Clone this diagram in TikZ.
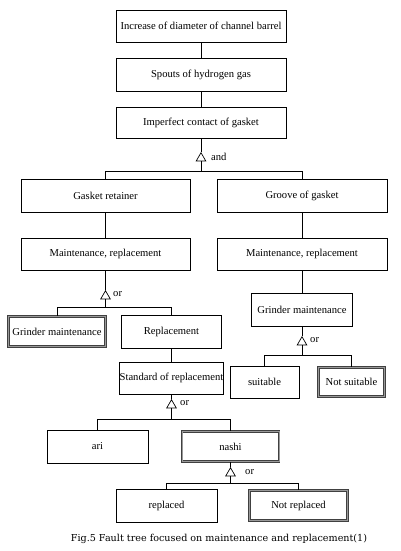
\documentclass[tikz,border=0pt]{standalone}
\usepackage{fontspec}
\setmainfont{Liberation Serif}
\newfontfamily\capfont{DejaVu Serif}
\usetikzlibrary{shapes.geometric}

\begin{document}
\begin{tikzpicture}[x=1pt,y=-1pt]
\tikzset{
  evt/.style={draw,line width=.7pt,inner sep=0pt,minimum height=32pt,font=\fontsize{10.6}{12}\selectfont},
  evtD/.style={evt,draw=black!75,double=black!40,double distance=1pt,line width=.8pt},
  gate/.style={draw,fill=white,line width=.7pt,regular polygon,regular polygon sides=3,minimum size=11pt,inner sep=0pt,anchor=north},
  gatelbl/.style={anchor=west,inner sep=0pt,font=\fontsize{10.6}{12}\selectfont},
  conn/.style={line width=.7pt},
}
\useasboundingbox (0,0) rectangle (400,551);

%% top chain
\node[evt,minimum width=170pt] (incr) at (201,26) {Increase of diameter of channel barrel};
\node[evt,minimum width=170pt,minimum height=33pt] (spout) at (201,74.5) {Spouts of hydrogen gas};
\node[evt,minimum width=170pt,minimum height=31pt] (contact) at (201,122.5) {Imperfect contact of gasket};
\draw[conn] (incr) -- (spout);
\draw[conn] (spout) -- (contact);

%% and gate
\node[gate] (gAnd) at (201,152) {};
\node[gatelbl] (lAnd) at (211,156.5) {and};
\coordinate (bAnd) at (201,171);

%% left branch
\node[evt,minimum width=169pt,minimum height=33pt] (retainer) at (105.5,195.5) {Gasket retainer};
\node[evt,minimum width=169pt] (maintL) at (105.5,254) {Maintenance, replacement};
\node[gate] (gOrL) at (105.5,290) {};
\node[gatelbl] (lOrL) at (113,294) {or};
\coordinate (bOrL) at (105.5,307);
\node[evtD,minimum width=97.5pt,minimum height=30.5pt] (grindL) at (57,331.5) {Grinder maintenance};
\node[evt,minimum width=100pt,minimum height=33pt] (repl) at (171.5,331.5) {Replacement};
\node[evt,minimum width=101pt] (std) at (171.5,378) {Standard of replacement};
\node[gate] (gOrS) at (171.5,399) {};
\node[gatelbl] (lOrS) at (180,403) {or};
\coordinate (bOrS) at (171.5,419);
\node[evt,minimum width=101pt,minimum height=33pt] (ari) at (97.5,446.5) {ari};
\node[evtD,minimum width=97pt,minimum height=30.5pt] (nashi) at (230.5,446.5) {nashi};
\node[gate] (gOrN) at (230.5,467) {};
\node[gatelbl] (lOrN) at (245,472) {or};
\coordinate (bOrN) at (230.5,483);
\node[evt,minimum width=101pt,minimum height=33pt] (replaced) at (166.5,505.5) {replaced};
\node[evtD,minimum width=98.5pt,minimum height=30.5pt] (notrepl) at (298.5,505.5) {Not replaced};

%% right branch
\node[evt,minimum width=170pt,minimum height=33pt] (groove) at (302,195.5) {Groove of gasket};
\node[evt,minimum width=170pt] (maintR) at (302,254) {Maintenance, replacement};
\node[evt,minimum width=101pt,minimum height=33pt] (grindR) at (302,309.5) {Grinder maintenance};
\node[gate] (gOrR) at (302,336) {};
\node[gatelbl] (lOrR) at (310,340) {or};
\coordinate (bOrR) at (302,355);
\node[evt,minimum width=69pt] (suit) at (264.5,382) {suitable};
\node[evtD,minimum width=66.5pt,minimum height=29.5pt] (notsuit) at (351.5,382) {Not suitable};

%% connectors
\draw[conn] (contact) -- (gAnd.north);
\draw[conn] (gAnd.south) -- (bAnd);
\draw[conn] (bAnd) -| (retainer.north);
\draw[conn] (bAnd) -| (groove.north);
\draw[conn] (retainer) -- (maintL);
\draw[conn] (maintL) -- (gOrL.north);
\draw[conn] (gOrL.south) -- (bOrL);
\draw[conn] (bOrL) -| (grindL.north);
\draw[conn] (bOrL) -| (repl.north);
\draw[conn] (repl) -- (std);
\draw[conn] (std) -- (gOrS.north);
\draw[conn] (gOrS.south) -- (bOrS);
\draw[conn] (bOrS) -| (ari.north);
\draw[conn] (bOrS) -| (nashi.north);
\draw[conn] (nashi) -- (gOrN.north);
\draw[conn] (gOrN.south) -- (bOrN);
\draw[conn] (bOrN) -| (replaced.north);
\draw[conn] (bOrN) -| (notrepl.north);
\draw[conn] (groove) -- (maintR);
\draw[conn] (maintR) -- (grindR);
\draw[conn] (grindR) -- (gOrR.north);
\draw[conn] (gOrR.south) -- (bOrR);
\draw[conn] (bOrR) -| (suit.north);
\draw[conn] (bOrR) -| (notsuit.north);

%% caption
\node[font=\capfont\fontsize{9.6}{11}\selectfont] (cap) at (219,539) {Fig.5 Fault tree focused on maintenance and replacement(1)};
\end{tikzpicture}
\end{document}
